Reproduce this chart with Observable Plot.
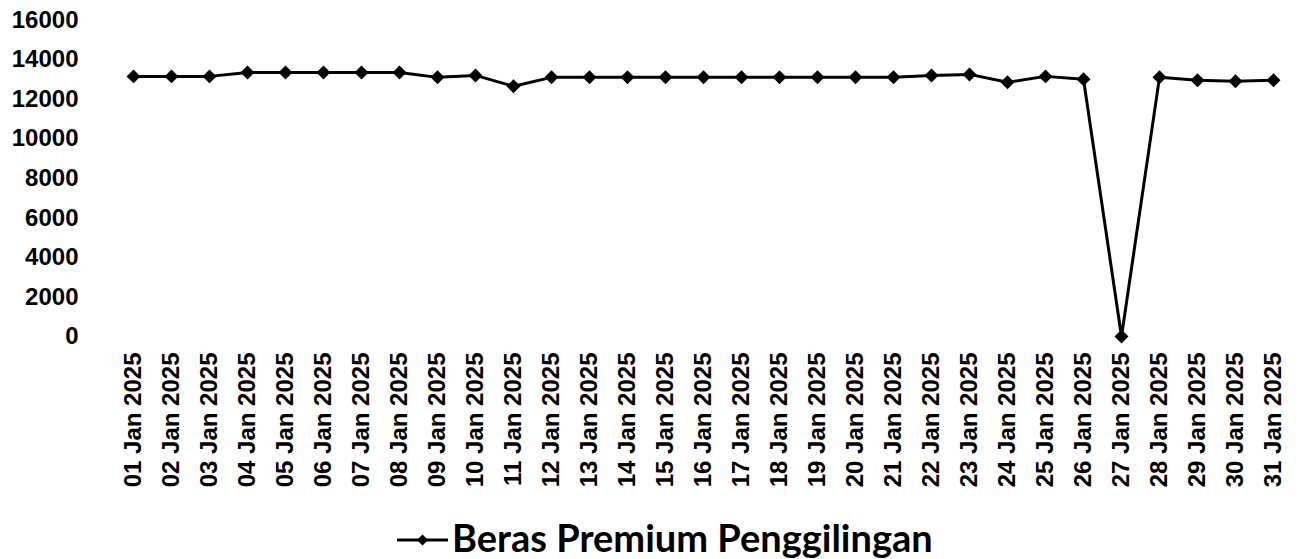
<!DOCTYPE html>
<html>
<head>
<meta charset="utf-8">
<script src="https://cdn.jsdelivr.net/npm/d3@7"></script>
<script src="https://cdn.jsdelivr.net/npm/@observablehq/plot@0.6"></script>
<style>
  html, body { margin: 0; padding: 0; background: #fff; }
  #chart svg { display: block; }
  #legend { position: relative; width: 1309px; height: 59px; }
</style>
</head>
<body>
<div id="chart"></div>
<div id="legend"></div>
<script>
const dates = [
  "01 Jan 2025","02 Jan 2025","03 Jan 2025","04 Jan 2025","05 Jan 2025","06 Jan 2025",
  "07 Jan 2025","08 Jan 2025","09 Jan 2025","10 Jan 2025","11 Jan 2025","12 Jan 2025",
  "13 Jan 2025","14 Jan 2025","15 Jan 2025","16 Jan 2025","17 Jan 2025","18 Jan 2025",
  "19 Jan 2025","20 Jan 2025","21 Jan 2025","22 Jan 2025","23 Jan 2025","24 Jan 2025",
  "25 Jan 2025","26 Jan 2025","27 Jan 2025","28 Jan 2025","29 Jan 2025","30 Jan 2025",
  "31 Jan 2025"
];
const values = [
  13150, 13150, 13150, 13350, 13350, 13350,
  13350, 13350, 13100, 13200, 12650, 13100,
  13100, 13100, 13100, 13100, 13100, 13100,
  13100, 13100, 13100, 13200, 13250, 12850,
  13150, 13000, 0, 13100, 12950, 12900,
  12950
];
const yTicks = [0, 2000, 4000, 6000, 8000, 10000, 12000, 14000, 16000];
const seriesName = "Beras Premium Penggilingan";

const data = dates.map((d, i) => ({date: d, value: values[i]}));

const chart = Plot.plot({
  width: 1309,
  height: 500,
  marginLeft: 123,
  marginRight: 26,
  marginTop: 19.5,
  marginBottom: 164,
  style: {fontFamily: "Liberation Sans, Arial, sans-serif", fontSize: "24px", fontWeight: "bold", color: "black", background: "white"},
  x: {type: "point", domain: dates, range: [123, 1283], padding: 0, label: null, tickRotate: -90, tickSize: 0, tickPadding: 16},
  y: {domain: [0, 16000], range: [336, 19.5], ticks: yTicks, label: null, tickSize: 0, tickPadding: 45, tickFormat: d => String(d)},
  marks: [
    Plot.line(data, {x: "date", y: "value", stroke: "black", strokeWidth: 3}),
    Plot.dot(data, {x: "date", y: "value", symbol: "diamond2", fill: "black", stroke: "none", r: 6.3})
  ]
});
document.getElementById("chart").appendChild(chart);

// Legend below the chart
const legend = d3.select("#legend").append("svg")
  .attr("width", 1309).attr("height", 59);
legend.append("line")
  .attr("x1", 397).attr("x2", 448).attr("y1", 40).attr("y2", 40)
  .attr("stroke", "black").attr("stroke-width", 3);
legend.append("path")
  .attr("d", d3.symbol(d3.symbolDiamond2, 80)())
  .attr("transform", "translate(422.5,40)")
  .attr("fill", "black");
legend.append("text")
  .attr("x", 452).attr("y", 52)
  .attr("font-family", "Lato, 'Open Sans', sans-serif")
  .attr("font-weight", "bold")
  .attr("font-size", 38)
  .attr("fill", "black")
  .text(seriesName);
</script>
</body>
</html>
